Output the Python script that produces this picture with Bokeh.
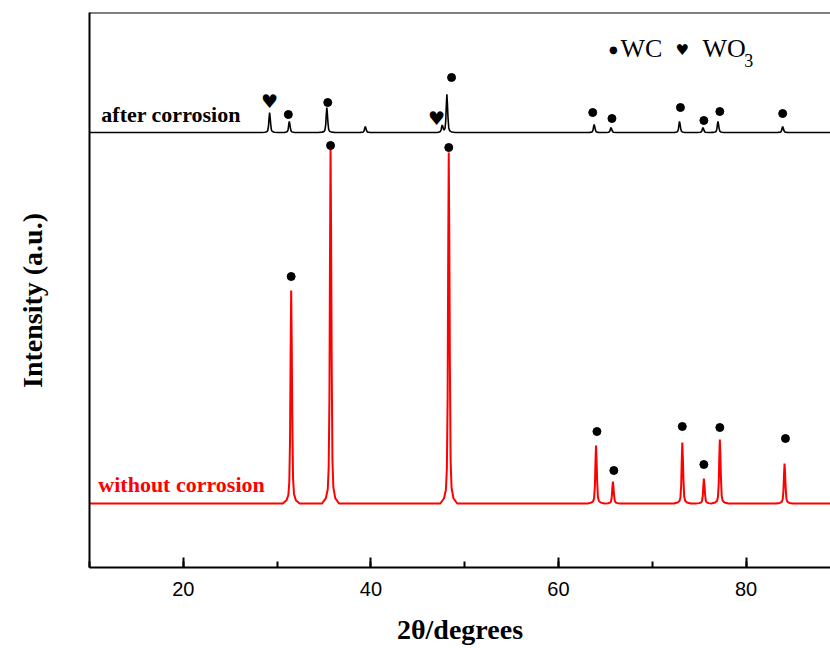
import numpy as np
from bokeh.plotting import figure
from bokeh.models import Label, Span, SingleIntervalTicker, FixedTicker
from bokeh.core.properties import value
from bokeh.embed import file_html
from bokeh.resources import INLINE

# ---- data (2theta in degrees, intensity in arbitrary units) ----
x_start, x_end = 10, 89.0

# without corrosion (red)
red_base = 64
red_pos = [31.5, 35.7, 48.3, 64.0, 65.8, 73.2, 75.5, 77.2, 84.1]
red_height = [213, 356, 351, 58, 22, 61, 25, 64, 40]
red_mark_pos = [31.5, 35.7, 48.3, 64.1, 65.9, 73.2, 75.5, 77.2, 84.2]
red_mark_y = [291, 422, 420, 136, 97, 141, 103, 140, 129]

# after corrosion (black)
black_base = 435
black_pos = [29.2, 31.3, 35.3, 39.4, 47.6, 48.1, 63.8, 65.6, 72.9, 75.4, 77.0, 83.9]
black_height = [20, 11, 25, 6, 7, 38, 8, 5, 11, 5, 11, 6]
black_mark_pos = [31.2, 35.4, 48.6, 63.65, 65.7, 73.0, 75.5, 77.2, 83.9]
black_mark_y = [453, 465, 490, 455, 449, 460, 447, 456, 454]
heart_pos = [29.2, 47.0]
heart_y = [467, 450]

# peak profile shape (offset in degrees, fraction of peak height)
profile_dx = [-0.9, -0.5, -0.3, -0.2, -0.12, -0.06, 0, 0.06, 0.12, 0.2, 0.3, 0.5, 0.9]
profile_f = [0, 0.015, 0.04, 0.1, 0.3, 0.7, 1, 0.75, 0.4, 0.12, 0.045, 0.015, 0]

x_ticks_interval = 20


def build_curve(pos, height, base):
    xs = [x_start, x_end] + [p + d for p in pos for d in profile_dx]
    xs = np.unique(np.array(xs))
    ys = np.full(xs.shape, float(base))
    for p, h in zip(pos, height):
        ys += h * np.interp(xs - p, profile_dx, profile_f, left=0, right=0)
    return xs, ys


serif = "Liberation Serif"

p = figure(width=830, height=648, x_range=(x_start, x_end), y_range=(0, 555),
           output_backend="svg", toolbar_location=None,
           min_border_left=89, min_border_right=0, min_border_top=12, min_border_bottom=81)
p.outline_line_color = None
p.xgrid.visible = False
p.ygrid.visible = False
p.background_fill_color = "white"
p.border_fill_color = "white"

# axes
p.xaxis.ticker = SingleIntervalTicker(interval=x_ticks_interval, num_minor_ticks=2)
p.xaxis.axis_line_width = 2
p.xaxis.major_tick_in = 10
p.xaxis.major_tick_out = 0
p.xaxis.minor_tick_in = 6
p.xaxis.minor_tick_out = 0
p.xaxis.major_tick_line_width = 2
p.xaxis.minor_tick_line_width = 2
p.xaxis.major_label_text_font = "Liberation Sans"
p.xaxis.major_label_text_font_size = "20px"
p.xaxis.major_label_text_color = "black"
p.xaxis.major_label_standoff = 14
p.xaxis.axis_label = "2\u03b8/degrees"
p.xaxis.axis_label_text_font = serif
p.xaxis.axis_label_text_font_style = "bold"
p.xaxis.axis_label_text_font_size = "28px"
p.xaxis.axis_label_text_color = "black"
p.xaxis.axis_label_standoff = 15

p.yaxis.ticker = FixedTicker(ticks=[])
p.yaxis.axis_line_width = 2
p.yaxis.major_tick_in = 0
p.yaxis.major_tick_out = 0
p.yaxis.minor_tick_in = 0
p.yaxis.minor_tick_out = 0
p.yaxis.axis_label = "Intensity (a.u.)\u00a0\u00a0\u00a0"
p.yaxis.axis_label_text_font = serif
p.yaxis.axis_label_text_font_style = "bold"
p.yaxis.axis_label_text_font_size = "28px"
p.yaxis.axis_label_text_color = "black"
p.yaxis.axis_label_standoff = 42

p.add_layout(Span(location=555, dimension="width", line_color="black", line_width=2))

# curves
rx, ry = build_curve(red_pos, red_height, red_base)
bx, by = build_curve(black_pos, black_height, black_base)
p.line(rx, ry, line_color="#ff0000", line_width=2)
p.line(bx, by, line_color="black", line_width=1.6)

# phase markers
p.scatter(red_mark_pos, red_mark_y, size=8, color="black")
p.scatter(black_mark_pos, black_mark_y, size=8, color="black")
p.text(heart_pos, heart_y, text=["\u2665"] * len(heart_pos), text_font=value("DejaVu Sans"),
       text_font_size="19px", text_align="center", text_baseline="middle", text_color="black")

# curve labels
p.add_layout(Label(x=11.26, y=453, text="after corrosion", text_font=serif, text_font_style="bold",
                   text_font_size="22px", text_color="black", text_baseline="middle"))
p.add_layout(Label(x=10.94, y=83, text="without corrosion", text_font=serif, text_font_style="bold",
                   text_font_size="22px", text_color="#ff0000", text_baseline="middle"))

# legend
p.add_layout(Label(x=65.85, y=518, text="\u25cf", text_font="DejaVu Sans", text_font_size="10px",
                   text_color="black", text_align="center", text_baseline="middle"))
p.add_layout(Label(x=66.6, y=519, text="WC", text_font=serif, text_font_size="26px",
                   text_color="black", text_baseline="middle"))
p.add_layout(Label(x=73.18, y=518, text="\u2665", text_font="DejaVu Sans", text_font_size="15px",
                   text_color="black", text_align="center", text_baseline="middle"))
p.add_layout(Label(x=75.35, y=519, text="WO", text_font=serif, text_font_size="26px",
                   text_color="black", text_baseline="middle"))
p.add_layout(Label(x=79.8, y=507, text="3", text_font=serif, text_font_size="18px",
                   text_color="black", text_baseline="middle"))

open("out.html", "w").write(file_html(p, INLINE))
